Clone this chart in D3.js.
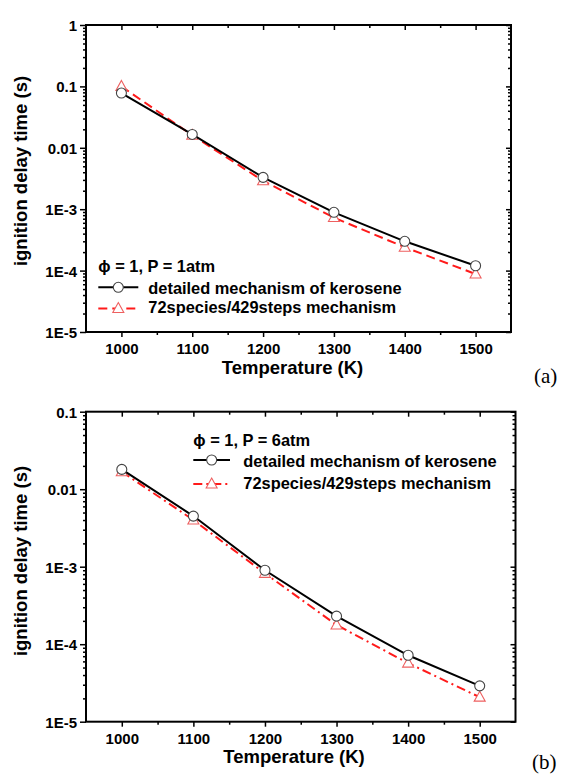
<!DOCTYPE html>
<html>
<head>
<meta charset="utf-8">
<script src="https://cdn.jsdelivr.net/npm/d3@7"></script>
<style>
  html, body { margin: 0; padding: 0; background: #fff; }
  svg { display: block; }
  .tick text { font-family: "Liberation Sans", Arial, sans-serif; font-weight: bold; font-size: 15px; fill: #000; }
</style>
</head>
<body>
<svg id="chart" width="565" height="779"></svg>
<script>
// ---------- data ----------
const temperatures = [1000, 1100, 1200, 1300, 1400, 1500];
const xMinorTicks = [1050, 1150, 1250, 1350, 1450];

// panel (a): phi = 1, P = 1 atm
const aDetailed = [0.078, 0.0165, 0.0033, 8.9e-4, 3.0e-4, 1.2e-4];
const aReduced  = [0.10, 0.016, 0.0029, 7.3e-4, 2.4e-4, 8.8e-5];
const aYTicks = [1, 0.1, 0.01, 1e-3, 1e-4, 1e-5];
const aYTickLabels = ["1", "0.1", "0.01", "1E-3", "1E-4", "1E-5"];

// panel (b): phi = 1, P = 6 atm
const bDetailed = [0.018, 0.0045, 9.0e-4, 2.3e-4, 7.2e-5, 2.9e-5];
const bReduced  = [0.0168, 0.0040, 8.2e-4, 1.77e-4, 5.7e-5, 2.07e-5];
const bYTicks = [0.1, 0.01, 1e-3, 1e-4, 1e-5];
const bYTickLabels = ["0.1", "0.01", "1E-3", "1E-4", "1E-5"];

const seriesNames = ["detailed mechanism of kerosene", "72species/429steps mechanism"];
const xTitle = "Temperature (K)";
const yTitle = "ignition delay time (s)";

// ---------- drawing ----------
const svg = d3.select("#chart");
const FONT = '"Liberation Sans", Arial, sans-serif';

function minorLogTicks(lo, hi) {
  const out = [];
  for (let e = Math.round(Math.log10(lo)); e < Math.round(Math.log10(hi)); e++) {
    for (let k = 2; k <= 9; k++) out.push(k * Math.pow(10, e));
  }
  return out;
}

function triPath(cx, cy, s) {
  const h = s * 0.9;
  return `M${cx},${cy - h * 0.6} L${cx + s / 2},${cy + h * 0.4} L${cx - s / 2},${cy + h * 0.4} Z`;
}

function drawPanel(cfg) {
  const g = svg.append("g");
  const x = d3.scaleLinear().domain([950, 1550]).range([cfg.left, cfg.right]);
  const y = d3.scaleLog().domain(cfg.yDomain).range([cfg.bottom, cfg.top]);
  const minors = minorLogTicks(cfg.yDomain[0], cfg.yDomain[1]);

  // axes
  const ax = (gen, tx, ty) => {
    const a = g.append("g").attr("transform", `translate(${tx},${ty})`).call(gen);
    a.select(".domain").remove();
    a.selectAll(".tick line").attr("stroke", "#000").attr("stroke-width", 1.5);
    return a;
  };
  const bMaj = ax(d3.axisBottom(x).tickValues(temperatures).tickSize(5).tickFormat(d3.format("d")), 0, cfg.bottom);
  bMaj.selectAll(".tick text").attr("y", 22).attr("dy", 0);
  ax(d3.axisBottom(x).tickValues(xMinorTicks).tickSize(3).tickFormat(""), 0, cfg.bottom);
  ax(d3.axisTop(x).tickValues(temperatures).tickSize(-5).tickFormat(""), 0, cfg.top);
  ax(d3.axisTop(x).tickValues(xMinorTicks).tickSize(-3).tickFormat(""), 0, cfg.top);

  const lMaj = ax(d3.axisLeft(y).tickValues(cfg.yTicks).tickSize(6)
      .tickFormat((d, i) => cfg.yTickLabels[i]), cfg.left, 0);
  lMaj.selectAll(".tick text").attr("x", -9).attr("dy", "0.36em");
  ax(d3.axisLeft(y).tickValues(minors).tickSize(3).tickFormat(""), cfg.left, 0);
  ax(d3.axisRight(y).tickValues(cfg.yTicks).tickSize(-5).tickFormat(""), cfg.right, 0);
  ax(d3.axisRight(y).tickValues(minors).tickSize(-3).tickFormat(""), cfg.right, 0);

  // frame
  g.append("rect")
    .attr("x", cfg.left).attr("y", cfg.top)
    .attr("width", cfg.right - cfg.left).attr("height", cfg.bottom - cfg.top)
    .attr("fill", "none").attr("stroke", "#000").attr("stroke-width", 2);

  const line = d3.line().x((d, i) => x(temperatures[i])).y(d => y(d));

  // reduced series (red)
  g.append("path").datum(cfg.reduced).attr("d", line)
    .attr("fill", "none").attr("stroke", "#ff1a1a").attr("stroke-width", 2)
    .attr("stroke-dasharray", cfg.dash);
  g.selectAll(".tri").data(cfg.reduced).enter().append("path")
    .attr("d", (d, i) => triPath(x(temperatures[i]), y(d), 11))
    .attr("fill", "#fff").attr("stroke", "#ee6060").attr("stroke-width", 1.1);

  // detailed series (black)
  g.append("path").datum(cfg.detailed).attr("d", line)
    .attr("fill", "none").attr("stroke", "#000").attr("stroke-width", 2);
  g.selectAll(".circ").data(cfg.detailed).enter().append("circle")
    .attr("cx", (d, i) => x(temperatures[i])).attr("cy", d => y(d)).attr("r", 5)
    .attr("fill", "#fff").attr("stroke", "#444").attr("stroke-width", 1.1);

  // axis titles
  g.append("text").attr("x", cfg.xTitleX).attr("y", cfg.xTitleY)
    .attr("text-anchor", "middle").attr("font-family", FONT).attr("font-weight", "bold")
    .attr("font-size", 18.5).text(xTitle);
  g.append("text").attr("transform", `translate(26.5,${cfg.yTitleY}) rotate(-90)`)
    .attr("text-anchor", "middle").attr("font-family", FONT).attr("font-weight", "bold")
    .attr("font-size", 18.5).text(yTitle);

  // legend
  const L = cfg.legend;
  const lt = (tx, ty, s) => g.append("text").attr("x", tx).attr("y", ty)
    .attr("font-family", FONT).attr("font-weight", "bold").attr("font-size", 16.4).text(s);
  lt(L.x0, L.r1, cfg.condition);
  g.append("line").attr("x1", L.x0).attr("x2", L.x1).attr("y1", L.l2).attr("y2", L.l2)
    .attr("stroke", "#000").attr("stroke-width", 2);
  g.append("circle").attr("cx", (L.x0 + L.x1) / 2).attr("cy", L.l2).attr("r", 5)
    .attr("fill", "#fff").attr("stroke", "#444").attr("stroke-width", 1.1);
  lt(L.tx, L.r2, seriesNames[0]);
  g.append("line").attr("x1", L.x0).attr("x2", L.x1).attr("y1", L.l3).attr("y2", L.l3)
    .attr("stroke", "#ff1a1a").attr("stroke-width", 2).attr("stroke-dasharray", cfg.dash);
  g.append("path").attr("d", triPath((L.x0 + L.x1) / 2, L.l3, 11))
    .attr("fill", "#fff").attr("stroke", "#ee6060").attr("stroke-width", 1.1);
  lt(L.tx, L.r3, seriesNames[1]);

  // panel label
  g.append("text").attr("x", cfg.tagX).attr("y", cfg.tagY)
    .attr("font-family", '"Liberation Serif", "Times New Roman", serif')
    .attr("font-size", 21).text(cfg.tag);
}

drawPanel({
  left: 86, right: 511, top: 25, bottom: 332,
  yDomain: [1e-5, 1], yTicks: aYTicks, yTickLabels: aYTickLabels,
  detailed: aDetailed, reduced: aReduced, dash: "9,5",
  xTitleX: 292.5, xTitleY: 373.5, yTitleY: 171,
  condition: "\u03d5 = 1, P = 1atm",
  legend: { x0: 98.3, x1: 138.3, tx: 148.3, r1: 271.7, l2: 287.3, r2: 294, l3: 308.5, r3: 313.3 },
  tag: "(a)", tagX: 534, tagY: 383
});

drawPanel({
  left: 86, right: 515.5, top: 411.7, bottom: 721.7,
  yDomain: [1e-5, 0.1], yTicks: bYTicks, yTickLabels: bYTickLabels,
  detailed: bDetailed, reduced: bReduced, dash: "9,4,2,4",
  xTitleX: 294, xTitleY: 763.3, yTitleY: 561,
  condition: "\u03d5 = 1, P = 6atm",
  legend: { x0: 193.3, x1: 230, tx: 243.3, r1: 446, l2: 460, r2: 466.7, l3: 484, r3: 489.3 },
  tag: "(b)", tagX: 532, tagY: 769
});
</script>
</body>
</html>
